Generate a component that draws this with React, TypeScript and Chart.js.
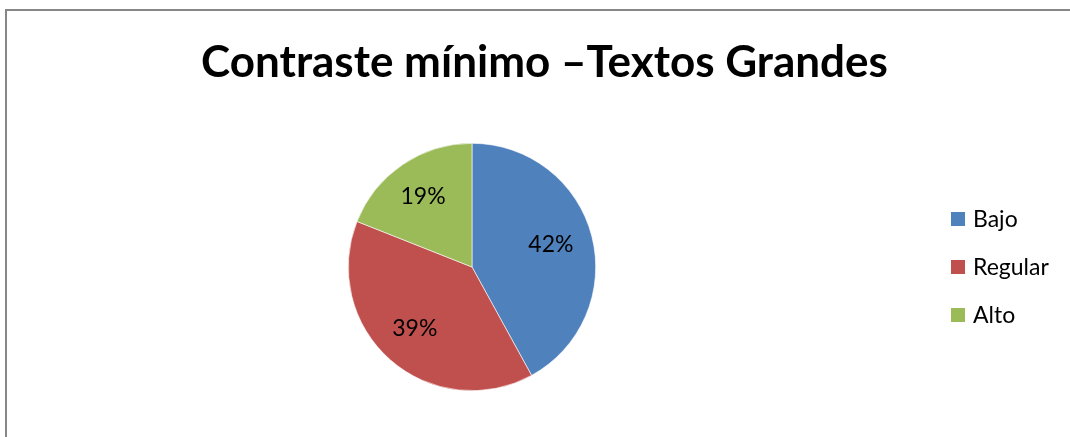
import React, { useEffect, useRef } from "react";
import { Chart, registerables } from "chart.js";

Chart.register(...registerables);

const titleText = "Contraste mínimo –Textos Grandes";
const categories = ["Bajo", "Regular", "Alto"];
const values = [42, 39, 19];
const colors = ["#4F81BD", "#C0504D", "#9BBB59"];

const FONT = "Lato, 'Open Sans', sans-serif";

const decorPlugin = {
  id: "decor",
  beforeDraw(chart: any) {
    const ctx = chart.ctx;
    ctx.save();
    ctx.fillStyle = "#ffffff";
    ctx.fillRect(0, 0, chart.width, chart.height);
    ctx.fillStyle = "#878787";
    ctx.fillRect(5, 9, 2, chart.height - 9);
    ctx.fillRect(5, 9, chart.width - 5, 2);
    ctx.restore();
  },
  afterDraw(chart: any) {
    const ctx = chart.ctx;
    ctx.save();
    // title
    ctx.font = `bold 100px ${FONT}`;
    const w100 = ctx.measureText(titleText).width;
    const size = (100 * 687) / w100;
    ctx.font = `bold ${size}px ${FONT}`;
    ctx.fillStyle = "#000000";
    ctx.textAlign = "center";
    ctx.textBaseline = "alphabetic";
    ctx.fillText(titleText, 544.5, 77);

    // legend
    ctx.textAlign = "left";
    ctx.font = `23px ${FONT}`;
    categories.forEach((c, i) => {
      const y = 212 + i * 48;
      ctx.fillStyle = colors[i];
      ctx.fillRect(951, y, 14, 14);
      ctx.fillStyle = "#000000";
      ctx.fillText(c, 973, y + 15);
    });

    // data labels
    const meta = chart.getDatasetMeta(0);
    const total = values.reduce((a, b) => a + b, 0);
    ctx.textAlign = "center";
    ctx.textBaseline = "alphabetic";
    ctx.font = `23px ${FONT}`;
    meta.data.forEach((arc: any, i: number) => {
      const { x, y, startAngle, endAngle, outerRadius } = arc.getProps(
        ["x", "y", "startAngle", "endAngle", "outerRadius"],
        true
      );
      const mid = (startAngle + endAngle) / 2;
      const r = outerRadius * 0.675;
      const lx = x + Math.cos(mid) * r;
      const ly = y + Math.sin(mid) * r;
      ctx.fillStyle = "#000000";
      ctx.fillText(Math.round((values[i] / total) * 100) + "%", lx - 2, ly + 6);
    });
    ctx.restore();
  },
};

export default function App() {
  const ref = useRef<HTMLCanvasElement>(null);
  useEffect(() => {
    document.body.style.margin = "0";
    const chart = new Chart(ref.current!, {
      type: "pie",
      data: {
        labels: categories,
        datasets: [
          {
            data: values,
            backgroundColor: colors,
            borderColor: "#ffffff",
            borderWidth: 0.6,
          },
        ],
      },
      options: {
        responsive: false,
        animation: false,
        layout: { padding: { left: 348, right: 474, top: 143, bottom: 46 } },
        plugins: {
          legend: { display: false },
          title: { display: false },
          tooltip: { enabled: false },
        },
      },
      plugins: [decorPlugin],
    });
    return () => chart.destroy();
  }, []);
  return (
    <div style={{ position: "absolute", left: 0, top: 0, width: 1070, height: 437 }}>
      <canvas ref={ref} width={1070} height={437} style={{ width: 1070, height: 437 }} />
    </div>
  );
}
